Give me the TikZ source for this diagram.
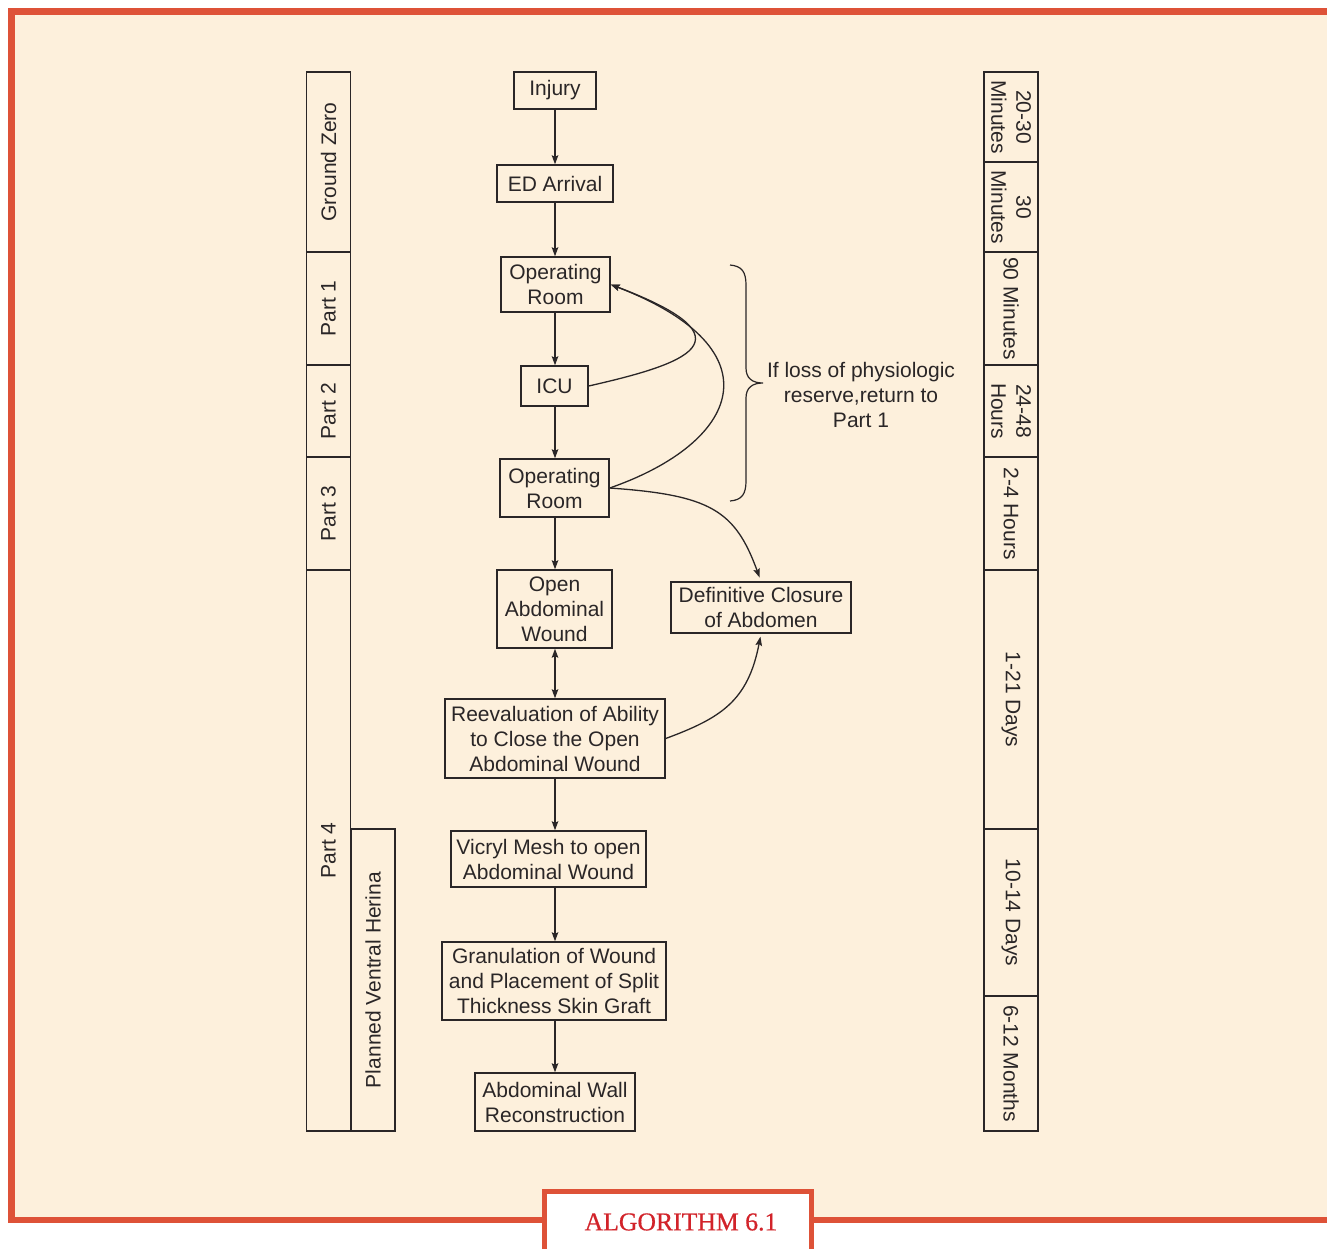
\documentclass[tikz,border=0pt]{standalone}
\usepackage{fontspec}
\setmainfont{Liberation Sans}
\newfontfamily\titleserif[FakeBold=0.6]{Liberation Serif}
\usetikzlibrary{arrows.meta}
\definecolor{cream}{HTML}{FDF0DC}
\definecolor{framered}{HTML}{DE5238}
\definecolor{titlered}{HTML}{D2232A}
\definecolor{ink}{HTML}{2A2627}

\begin{document}
\begin{tikzpicture}[x=1pt,y=-1pt,
  >={Stealth[length=9pt,width=6.5pt,inset=1.5pt]},
  font=\fontsize{21}{25}\selectfont,
  every node/.style={text=ink},
  box/.style={draw=ink, line width=1.4pt, align=center, inner sep=0pt},
  cell/.style={draw=ink, line width=1.4pt, align=center, inner sep=0pt},
  flow/.style={draw=ink, line width=1.3pt, ->},
]
\clip (0,0) rectangle (1327,1248);

% page background and framed panel
\fill[white] (0,0) rectangle (1327,1248);
\fill[cream] (11.5,11.5) rectangle (1330,1220);
\draw[framered, line width=6.5pt] (1335,11.5) -- (11.5,11.5) -- (11.5,1220) -- (1335,1220);
\node[draw=framered, fill=white, line width=5pt, outer sep=0pt, inner sep=0pt,
      minimum width=267pt, minimum height=61.5pt] (titlebox) at (678,1222.25) {};
\node[text=titlered, font=\titleserif\fontsize{25.7}{30}\selectfont] (title) at (681,1222) {ALGORITHM 6.1};

% left column: phases
\node[cell, rotate=90, minimum width=180pt, minimum height=44.5pt] (gz) at (328.5,162) {Ground Zero};
\node[cell, rotate=90, minimum width=113pt, minimum height=44.5pt] (p1) at (328.5,308.5) {Part 1};
\node[cell, rotate=90, minimum width=92pt,  minimum height=44.5pt] (p2) at (328.5,411) {Part 2};
\node[cell, rotate=90, minimum width=113pt, minimum height=44.5pt] (p3) at (328.5,513.5) {Part 3};
\node[cell, rotate=90, minimum width=561pt, minimum height=44.5pt] (p4) at (328.5,850.5) {Part 4};
\node[cell, rotate=90, minimum width=302pt, minimum height=44pt] (pvh) at (373,980) {Planned Ventral Herina};

% right column: timing
\node[cell, rotate=-90, minimum width=90pt,  minimum height=54pt] (t1) at (1011,117) {20-30\\Minutes};
\node[cell, rotate=-90, minimum width=90pt,  minimum height=54pt] (t2) at (1011,207) {30\\Minutes};
\node[cell, rotate=-90, minimum width=113pt, minimum height=54pt] (t3) at (1011,308.5) {90 Minutes};
\node[cell, rotate=-90, minimum width=92pt,  minimum height=54pt] (t4) at (1011,411) {24-48\\Hours};
\node[cell, rotate=-90, minimum width=113pt, minimum height=54pt] (t5) at (1011,513.5) {2-4 Hours};
\node[cell, rotate=-90, minimum width=259pt, minimum height=54pt] (t6) at (1011,699.5) {1-21 Days};
\node[cell, rotate=-90, minimum width=167pt, minimum height=54pt] (t7) at (1011,912.5) {10-14 Days};
\node[cell, rotate=-90, minimum width=135pt, minimum height=54pt] (t8) at (1011,1063.5) {6-12 Months};

% flow boxes
\node[box, minimum width=82pt,  minimum height=37pt] (injury) at (555,90.5) {Injury};
\node[box, minimum width=116pt, minimum height=37pt] (ed) at (555,183.5) {ED Arrival};
\node[box, minimum width=109pt, minimum height=55pt] (or1) at (555.5,284.5) {Operating\\Room};
\node[box, minimum width=67pt,  minimum height=40pt] (icu) at (554.5,386) {ICU};
\node[box, minimum width=109pt, minimum height=58pt] (or2) at (554.5,488) {Operating\\Room};
\node[box, minimum width=115pt, minimum height=78pt] (open) at (554.5,609) {Open\\Abdominal\\Wound};
\node[box, minimum width=180pt, minimum height=51pt] (def) at (761,607.5) {Definitive Closure\\of Abdomen};
\node[box, minimum width=220pt, minimum height=79pt] (reeval) at (555,738.5) {Reevaluation of Ability\\to Close the Open\\Abdominal Wound};
\node[box, minimum width=195pt, minimum height=56pt] (vicryl) at (548.5,859) {Vicryl Mesh to open\\Abdominal Wound};
\node[box, minimum width=224pt, minimum height=78pt] (gran) at (554,981) {Granulation of Wound\\and Placement of Split\\Thickness Skin Graft};
\node[box, minimum width=160pt, minimum height=58pt] (awr) at (555,1102) {Abdominal Wall\\Reconstruction};

% note beside the brace
\node[align=center] (note) at (861,395) {If loss of physiologic\\reserve,return to\\Part 1};

% main vertical flow
\coordinate (axis) at (555,0);
\draw[flow] (injury.south -| axis) -- (ed.north -| axis);
\draw[flow] (ed.south -| axis) -- (or1.north -| axis);
\draw[flow] (or1.south -| axis) -- (icu.north -| axis);
\draw[flow] (icu.south -| axis) -- (or2.north -| axis);
\draw[flow] (or2.south -| axis) -- (open.north -| axis);
\draw[flow, <->] (open.south -| axis) -- (reeval.north -| axis);
\draw[flow] (reeval.south -| axis) -- (vicryl.north -| axis);
\draw[flow] (vicryl.south -| axis) -- (gran.north -| axis);
\draw[flow] (gran.south -| axis) -- (awr.north -| axis);

% returns to the operating room
\draw[flow] (icu.east) .. controls (685.5,364) and (757,340) .. (or1.east);
\draw[flow] (or2.east) .. controls (739,443) and (780,350) .. (or1.east);

% paths to definitive closure
\draw[flow, shorten >=4pt] (or2.east) .. controls (710,495) and (735,510) .. (def.north);
\draw[flow, shorten >=3pt] (reeval.east) .. controls (721,718) and (748,701) .. (def.south);

% curly brace
\draw[ink, line width=1.2pt] (730,265) .. controls (742,266) and (746,272) .. (746,285)
  -- (746,368) .. controls (746,378) and (752,383) .. (763,383)
  .. controls (752,383) and (746,388) .. (746,398)
  -- (746,481) .. controls (746,494) and (742,500) .. (730,501);
\end{tikzpicture}
\end{document}
